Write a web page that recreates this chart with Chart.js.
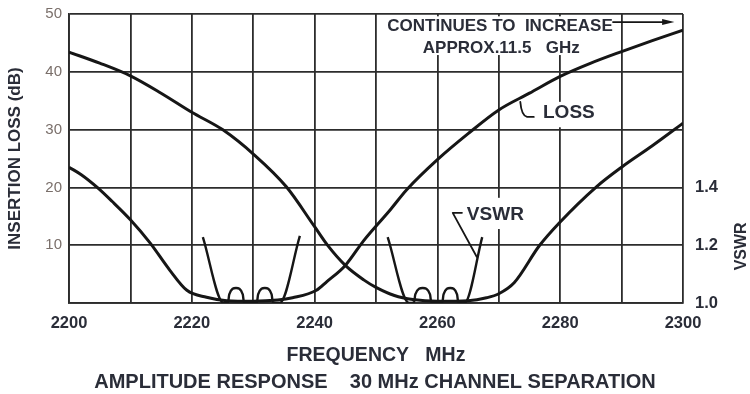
<!DOCTYPE html>
<html>
<head>
<meta charset="utf-8">
<title>Amplitude response</title>
<script src="https://cdn.jsdelivr.net/npm/chart.js@4.4.0/dist/chart.umd.min.js"></script>
<style>
  html, body { margin: 0; padding: 0; background: #fff; }
</style>
</head>
<body>
<canvas id="myChart" width="750" height="394"></canvas>
<script>
// axis ticks
var freqTicks = [2200, 2220, 2240, 2260, 2280, 2300];
var lossTicks = [10, 20, 30, 40, 50];
var vswrTicks = [1.0, 1.2, 1.4];

// insertion loss, lower channel (passband near 2230 MHz)
var lossLowFreq = [2200, 2202, 2204.6, 2207, 2210, 2213.2, 2216.4, 2219.2, 2222.4, 2225.7, 2230, 2234, 2236.4, 2240.3, 2242, 2245, 2248, 2252.3, 2255, 2260, 2265, 2270, 2275, 2280, 2285, 2290, 2295, 2300];
var lossLowDb   = [23.5, 22.2, 20.0, 17.6, 14.4, 10.4, 5.7, 2.2, 1.0, 0.4, 0.3, 0.5, 0.9, 2.2, 3.7, 6.5, 10.8, 16.1, 19.6, 24.8, 29.3, 33.4, 36.3, 39.2, 41.5, 43.5, 45.4, 47.2];

// insertion loss, upper channel (passband near 2260 MHz)
var lossHighFreq = [2200, 2205, 2210, 2215, 2220, 2225, 2230.2, 2235.4, 2240, 2242.1, 2245, 2248, 2250, 2253, 2256, 2260, 2265, 2268, 2270, 2272.5, 2276.6, 2279.8, 2285.9, 2290, 2295, 2300];
var lossHighDb   = [43.4, 41.5, 39.3, 36.3, 33.0, 30.0, 25.6, 20.1, 13.2, 10.0, 6.5, 4.0, 2.7, 1.3, 0.6, 0.3, 0.4, 0.9, 1.6, 3.5, 9.9, 13.8, 20.1, 23.5, 27.2, 31.1];

// VSWR, lower channel
var vswrLowFreq = [2221.8, 2225.2, 2225.9, 2226.1, 2227.2, 2228.3, 2228.5, 2230.6, 2230.8, 2231.9, 2233.0, 2233.2, 2234.3, 2237.6];
var vswrLow     = [1.228, 1.0, 1.002, 1.03, 1.052, 1.03, 1.002, 1.002, 1.03, 1.052, 1.03, 1.002, 1.0, 1.232];

// VSWR, upper channel
var vswrHighFreq = [2251.9, 2255.4, 2256.2, 2256.4, 2257.6, 2258.8, 2259.0, 2260.8, 2261.0, 2262.1, 2263.2, 2263.4, 2264.4, 2267.3];
var vswrHigh     = [1.228, 1.0, 1.002, 1.03, 1.052, 1.03, 1.002, 1.002, 1.03, 1.052, 1.03, 1.002, 1.0, 1.228];

var ink = '#161616';
var gridInk = '#2c2c2c';
var textInk = '#2a2d38';
var face = "'Liberation Sans', Arial, sans-serif";

function pairs(xs, ys) {
  return xs.map(function(x, i) { return { x: x, y: ys[i] }; });
}

function curve(xs, ys, axis, width) {
  return {
    data: pairs(xs, ys),
    yAxisID: axis,
    borderColor: ink,
    borderWidth: width,
    pointRadius: 0,
    fill: false,
    cubicInterpolationMode: 'monotone'
  };
}

// vertical axes: fixed width, no extra room above/below for the end labels
function fixWidth(w) {
  return function(s) {
    s.width = w;
    s.paddingTop = 0;
    s.paddingBottom = 0;
  };
}

// labels, call-outs and the right hand axis title
var notes = {
  id: 'notes',
  beforeDatasetsDraw: function(chart) {
    var ctx = chart.ctx, xs = chart.scales.x, ys = chart.scales.y;
    function box(x0, x1, y0, y1) {
      var a = xs.getPixelForValue(x0), b = xs.getPixelForValue(x1);
      var c = ys.getPixelForValue(y0), d = ys.getPixelForValue(y1);
      ctx.fillRect(a, c, b - a, d - c);
    }
    ctx.save();
    ctx.fillStyle = '#fff';
    box(2251.1, 2289.2, 49.6, 42.9);
    box(2276.4, 2286.2, 34.8, 30.4);
    box(2264.2, 2275.4, 18.2, 12.8);
    ctx.restore();
  },
  afterDatasetsDraw: function(chart) {
    var ctx = chart.ctx, xs = chart.scales.x, ys = chart.scales.y;
    function X(v) { return xs.getPixelForValue(v); }
    function Y(v) { return ys.getPixelForValue(v); }
    ctx.save();
    ctx.fillStyle = textInk;
    ctx.textBaseline = 'middle';

    ctx.font = 'bold 17px ' + face;
    ctx.textAlign = 'center';
    ctx.fillText('CONTINUES TO  INCREASE', X(2270.2), Y(47.9));
    ctx.fillText('APPROX.11.5   GHz', X(2270.4), Y(44.1));

    ctx.font = 'bold 19px ' + face;
    ctx.textAlign = 'left';
    ctx.fillText('LOSS', X(2277.2), Y(32.9));
    ctx.fillText('VSWR', X(2264.8), Y(15.2));

    ctx.strokeStyle = ink;
    ctx.lineWidth = 1.8;
    ctx.lineCap = 'round';
    ctx.lineJoin = 'round';

    // arrow to the right edge
    ctx.beginPath();
    ctx.moveTo(X(2288.6), Y(48.6));
    ctx.lineTo(X(2297.2), Y(48.6));
    ctx.stroke();
    ctx.fillStyle = ink;
    ctx.beginPath();
    ctx.moveTo(X(2298.6), Y(48.6));
    ctx.lineTo(X(2296.6), Y(48.6) - 3);
    ctx.lineTo(X(2296.6), Y(48.6) + 3);
    ctx.closePath();
    ctx.fill();

    // LOSS pointer
    ctx.beginPath();
    ctx.moveTo(X(2275.7), Y(32.2));
    ctx.lineTo(X(2274.6), Y(32.2));
    ctx.quadraticCurveTo(X(2273.7), Y(32.4), X(2273.5), Y(34.8));
    ctx.stroke();

    // VSWR pointer
    ctx.beginPath();
    ctx.moveTo(X(2264.0), Y(15.6));
    ctx.lineTo(X(2262.5), Y(15.6));
    ctx.lineTo(X(2266.4), Y(8.0));
    ctx.stroke();
    ctx.restore();
  },
  afterDraw: function(chart) {
    var ctx = chart.ctx, ys = chart.scales.y;
    ctx.save();
    ctx.translate(chart.width - 8, ys.getPixelForValue(9.8));
    ctx.rotate(-Math.PI / 2);
    ctx.fillStyle = textInk;
    ctx.font = 'bold 16px ' + face;
    ctx.textAlign = 'center';
    ctx.textBaseline = 'middle';
    ctx.fillText('VSWR', 0, 0);
    ctx.restore();
  }
};

var myChart = document.getElementById('myChart').getContext('2d');

var responseChart = new Chart(myChart, {
  type: 'line',
  data: {
    datasets: [
      curve(lossLowFreq, lossLowDb, 'y', 3),
      curve(lossHighFreq, lossHighDb, 'y', 3),
      curve(vswrLowFreq, vswrLow, 'y2', 2.4),
      curve(vswrHighFreq, vswrHigh, 'y2', 2.4)
    ]
  },
  options: {
    responsive: false,
    animation: false,
    layout: { padding: { top: 14, left: 0, right: 0, bottom: 0 } },
    plugins: {
      legend: { display: false },
      tooltip: { enabled: false },
      title: {
        display: true,
        position: 'bottom',
        text: 'AMPLITUDE RESPONSE    30 MHz CHANNEL SEPARATION',
        color: textInk,
        font: { family: face, size: 20, weight: 'bold' },
        padding: { top: 0, bottom: 0 }
      }
    },
    scales: {
      x: {
        type: 'linear',
        position: 'bottom',
        min: 2200,
        max: 2300,
        afterFit: function(s) { s.height = 67; },
        grid: { color: gridInk, lineWidth: 1.8, drawTicks: false },
        border: { display: true, color: gridInk, width: 1.8 },
        ticks: {
          stepSize: 10,
          autoSkip: false,
          maxRotation: 0,
          padding: 11,
          color: textInk,
          font: { family: face, size: 16.5, weight: 'bold' },
          callback: function(v) {
            return freqTicks.indexOf(Math.round(v)) >= 0 ? String(Math.round(v)) : '';
          }
        },
        title: {
          display: true,
          text: 'FREQUENCY   MHz',
          color: textInk,
          font: { family: face, size: 19.5, weight: 'bold' },
          padding: { top: 0, bottom: 3 }
        }
      },
      y: {
        position: 'left',
        min: 0,
        max: 50,
        afterFit: fixWidth(69),
        grid: { color: gridInk, lineWidth: 1.8, drawTicks: false },
        border: { display: true, color: gridInk, width: 1.8 },
        ticks: {
          stepSize: 10,
          padding: 7,
          color: '#7a6f6a',
          font: { family: face, size: 15 },
          callback: function(v) {
            return lossTicks.indexOf(Math.round(v)) >= 0 ? String(Math.round(v)) : '';
          }
        },
        title: {
          display: true,
          text: 'INSERTION LOSS (dB)',
          color: textInk,
          font: { family: face, size: 17, weight: 'bold' },
          padding: { top: 5, bottom: 0 }
        }
      },
      y2: {
        position: 'right',
        min: 1.0,
        max: 2.0,
        afterFit: fixWidth(67),
        grid: { display: false, drawTicks: false },
        border: { display: false },
        ticks: {
          stepSize: 0.2,
          padding: 12,
          color: textInk,
          font: { family: face, size: 16.5, weight: 'bold' },
          callback: function(v) {
            for (var i = 0; i < vswrTicks.length; i++) {
              if (Math.abs(v - vswrTicks[i]) < 1e-6) return vswrTicks[i].toFixed(1);
            }
            return '';
          }
        }
      }
    }
  },
  plugins: [notes]
});
</script>
</body>
</html>
